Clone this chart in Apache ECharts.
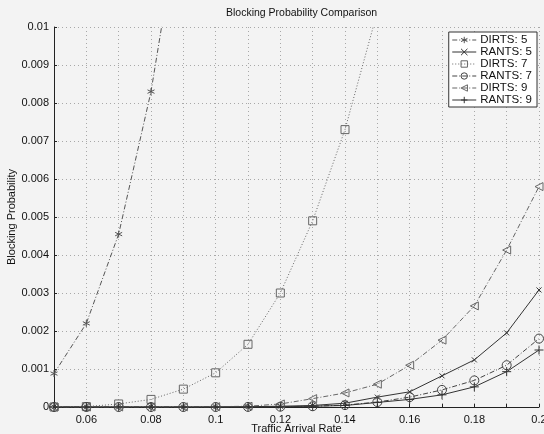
<!DOCTYPE html>
<html>
<head>
<meta charset="utf-8">
<script src="https://cdn.jsdelivr.net/npm/echarts@6/dist/echarts.min.js"></script>
<style>html,body{margin:0;padding:0;background:#f3f3f3;}#c{width:544px;height:434px;}</style>
</head>
<body>
<div id="c"></div>
<script>
const rates = [0.05,0.06,0.07,0.08,0.09,0.10,0.11,0.12,0.13,0.14,0.15,0.16,0.17,0.18,0.19,0.20];
const dirts5 = [0.00088,0.0022,0.00455,0.0083,0.0135];
const rants5 = [0,0,0,0,0,0.000003,0.000008,0.00002,0.00004,0.0001,0.00026,0.0004,0.00082,0.00124,0.00195,0.00308];
const dirts7 = [0,0.00001,0.00008,0.0002,0.00047,0.0009,0.00165,0.003,0.0049,0.0073,0.0104];
const rants7 = [0,0,0,0,0,0,0.000003,0.000008,0.00002,0.00005,0.00013,0.00026,0.00045,0.0007,0.0011,0.0018];
const dirts9 = [0,0,0,0,0.000003,0.000008,0.00002,0.00008,0.00022,0.00037,0.0006,0.0011,0.00176,0.00266,0.00413,0.0058];
const rants9 = [0,0,0,0,0,0,0.000002,0.000006,0.00002,0.00004,0.00012,0.0002,0.00032,0.00053,0.00093,0.0015];
const seriesNames = ['DIRTS: 5','RANTS: 5','DIRTS: 7','RANTS: 7','DIRTS: 9','RANTS: 9'];

function pairs(vals){ return vals.map((v,i)=>[rates[i], v]); }

const SYM = {
  star: 'path://M0,-5L0,5M-4.3,-2.5L4.3,2.5M-4.3,2.5L4.3,-2.5',
  cross: 'path://M-4,-4L4,4M-4,4L4,-4',
  rect: 'rect',
  circ: 'circle',
  tri: 'path://M-4,0L4,-4.5L4,4.5Z',
  plus: 'path://M0,-5L0,5M-5,0L5,0'
};

function mk(name, vals, sym, size, col, type){
  return {
    name: name, type: 'line', data: pairs(vals),
    symbol: sym, symbolSize: size, showSymbol: true,
    clip: true,
    lineStyle: {color: col, width: 1, type: type},
    itemStyle: {color: 'rgba(0,0,0,0)', borderColor: col, borderWidth: 1},
    emphasis: {disabled: true},
    animation: false
  };
}

const dashdot = [5,2,1,2];
const font = 'Liberation Sans, Arial';
const chart = echarts.init(document.getElementById('c'));
chart.setOption({
  backgroundColor: '#f3f3f3',
  animation: false,
  title: {
    text: 'Blocking Probability Comparison',
    left: 221, top: 3,
    textStyle: {fontSize: 10.5, fontWeight: 'normal', color: '#111', fontFamily: font}
  },
  legend: {
    data: seriesNames,
    orient: 'vertical',
    right: 7, top: 32,
    backgroundColor: '#ffffff',
    borderColor: '#333', borderWidth: 1,
    padding: [2, 5, 1, 3],
    itemGap: 0, itemWidth: 24, itemHeight: 8,
    itemStyle: {color: 'rgba(0,0,0,0)', borderWidth: 1},
    lineStyle: {width: 1},
    textStyle: {fontSize: 11.5, lineHeight: 12, color: '#111', fontFamily: font, padding: [0,0,0,-1]}
  },
  grid: {left: 54, right: 5, top: 27, bottom: 27, containLabel: false, outerBoundsMode: 'none'},
  xAxis: {
    type: 'value', min: 0.05, max: 0.2, interval: 0.01,
    name: 'Traffic Arrival Rate', nameLocation: 'middle', nameGap: 16, nameMoveOverlap: false,
    nameTextStyle: {fontSize: 11, color: '#111', fontFamily: font},
    axisLine: {show: true, onZero: false, lineStyle: {color: '#222', width: 1}},
    axisTick: {show: true, inside: true, length: 3, lineStyle: {color: '#222'}},
    axisLabel: {
      fontSize: 11, color: '#111', margin: 7, fontFamily: font,
      formatter: function(v){ const k = Math.round(v*100); if (k === 5 || k % 2 !== 0) return ''; return String(+(k/100).toFixed(2)); }
    },
    splitLine: {show: true, lineStyle: {color: '#a8a8a8', type: [1,3], width: 1}}
  },
  yAxis: {
    type: 'value', min: 0, max: 0.01, interval: 0.001,
    name: 'Blocking Probability', nameLocation: 'middle', nameGap: 37, nameMoveOverlap: false,
    nameTextStyle: {fontSize: 11, color: '#111', fontFamily: font},
    axisLine: {show: true, lineStyle: {color: '#222', width: 1}},
    axisTick: {show: true, inside: true, length: 3, lineStyle: {color: '#222'}},
    axisLabel: {
      fontSize: 11, color: '#111', margin: 5, fontFamily: font,
      formatter: function(v){ return String(+v.toFixed(3)); }
    },
    splitLine: {show: true, lineStyle: {color: '#a8a8a8', type: [1,3], width: 1}}
  },
  series: [
    mk(seriesNames[0], dirts5, SYM.star, 7, '#555', dashdot),
    mk(seriesNames[1], rants5, SYM.cross, 5, '#333', 'solid'),
    mk(seriesNames[2], dirts7, SYM.rect, 8, '#666', [1,2]),
    mk(seriesNames[3], rants7, SYM.circ, 9, '#444', dashdot),
    mk(seriesNames[4], dirts9, SYM.tri, 8, '#666', dashdot),
    mk(seriesNames[5], rants9, SYM.plus, 9, '#333', 'solid')
  ]
});
</script>
</body>
</html>
